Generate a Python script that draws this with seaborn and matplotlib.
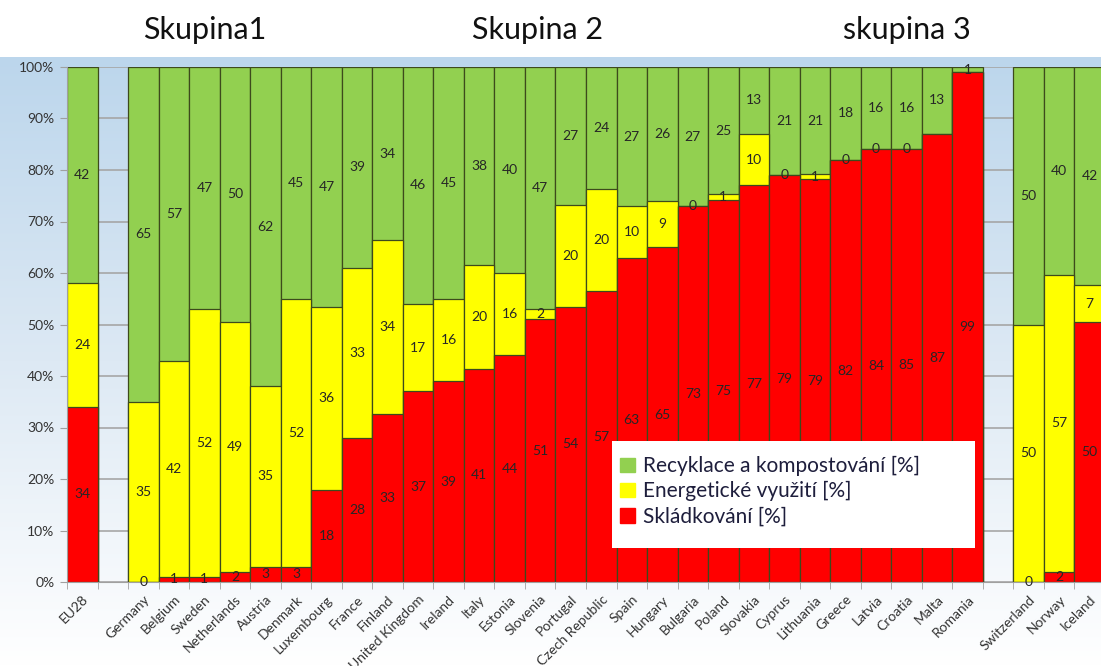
import numpy as np
import pandas as pd
import matplotlib.pyplot as plt
import matplotlib.patches as mpatches
from matplotlib.colors import LinearSegmentedColormap
import seaborn as sns

# ── data (values as printed on the chart) ─────────────────────
countries = ["EU28", "Germany", "Belgium", "Sweden", "Netherlands", "Austria",
             "Denmark", "Luxembourg", "France", "Finland", "United Kingdom",
             "Ireland", "Italy", "Estonia", "Slovenia", "Portugal",
             "Czech Republic", "Spain", "Hungary", "Bulgaria", "Poland",
             "Slovakia", "Cyprus", "Lithuania", "Greece", "Latvia", "Croatia",
             "Malta", "Romania", "Switzerland", "Norway", "Iceland"]
landfill = [34, 0, 1, 1, 2, 3, 3, 18, 28, 33, 37, 39, 41, 44, 51, 54, 57, 63,
            65, 73, 75, 77, 79, 79, 82, 84, 85, 87, 99, 0, 2, 50]
# Malta / Romania: no energy-recovery value printed
energy = [24, 35, 42, 52, 49, 35, 52, 36, 33, 34, 17, 16, 20, 16, 2, 20, 20,
          10, 9, 0, 1, 10, 0, 1, 0, 0, 0, None, None, 50, 57, 7]
recycling = [42, 65, 57, 47, 50, 62, 45, 47, 39, 34, 46, 45, 38, 40, 47, 27,
             24, 27, 26, 27, 25, 13, 21, 21, 18, 16, 16, 13, 1, 50, 40, 42]
# empty slots separate the groups
order = ["EU28", "", *countries[1:29], " ", *countries[29:]]
group_titles = ["Skupina1", "Skupina 2", "skupina 3"]
legend_labels = ["Recyklace a kompostování [%]", "Energetické využití [%]",
                 "Skládkování [%]"]

GREEN, YELLOW, RED = "#92d050", "#ffff00", "#ff0000"

df = pd.DataFrame({"country": countries, "landfill": landfill,
                   "energy": energy, "recycling": recycling})
cols = ["landfill", "energy", "recycling"]
# Excel 100% stacked -> normalise each row
vals = df[cols].fillna(0)
pct = vals.div(vals.sum(axis=1), axis=0) * 100
df["red_top"] = pct["landfill"]
df["yellow_top"] = pct["landfill"] + pct["energy"]
df["green_top"] = df["yellow_top"] + pct["recycling"]

fig = plt.figure(figsize=(11.01, 6.66), dpi=100, facecolor="white")
plt.rcParams["font.family"] = ["Lato", "DejaVu Sans"]

# gradient background of the chart area
bg = fig.add_axes([0, 0, 1, 1 - 57 / 666], zorder=-10)
grad = np.linspace(0, 1, 256).reshape(-1, 1)
cmap = LinearSegmentedColormap.from_list("bg", ["#bcd6ec", "#dde9f4", "#ffffff"])
bg.imshow(grad, aspect="auto", cmap=cmap, extent=[0, 1, 0, 1])
bg.axis("off")

ax = fig.add_axes([67 / 1101, 1 - 582 / 666, 1038 / 1101, (582 - 67) / 666])
ax.patch.set_alpha(0)

common = dict(data=df, x="country", order=order, width=1.0, saturation=1,
              edgecolor="#3d4a1c", linewidth=0.9, errorbar=None, ax=ax)
sns.barplot(y="green_top", color=GREEN, **common)
sns.barplot(y="yellow_top", color=YELLOW, **common)
sns.barplot(y="red_top", color=RED, **common)

# segment labels
for _, row in df.iterrows():
    xpos = order.index(row["country"])
    centers = [row["red_top"] / 2,
               (row["red_top"] + row["yellow_top"]) / 2,
               (row["yellow_top"] + row["green_top"]) / 2]
    for val, yc in zip([row["landfill"], row["energy"], row["recycling"]], centers):
        if pd.isna(val):
            continue
        ax.text(xpos, yc, f"{int(val)}", ha="center", va="center",
                fontsize=10, color="#262626", zorder=5)

ax.set_xlim(-0.5, len(order) - 0.5)
ax.set_ylim(0, 100)
ax.set_yticks(np.arange(0, 101, 10))
ax.set_yticklabels([f"{v}%" for v in range(0, 101, 10)])
ax.set_xticks(range(len(order)))
ax.set_xticklabels(order, rotation=45, ha="right", rotation_mode="anchor")
ax.set_xticks(np.arange(-0.5, len(order)), minor=True)
ax.tick_params(axis="x", which="major", length=0, pad=8, labelsize=10,
               labelcolor="#333333")
ax.tick_params(axis="x", which="minor", length=5, color="#a0a0a0")
ax.tick_params(axis="y", length=5, color="#a0a0a0", labelsize=10,
               labelcolor="#333333", pad=4)
ax.set_xlabel("")
ax.set_ylabel("")
ax.set_axisbelow(True)
ax.yaxis.grid(True, color="#a6a6a6", linewidth=1.2)
for side in ["top", "right"]:
    ax.spines[side].set_visible(False)
for side in ["left", "bottom"]:
    ax.spines[side].set_color("#a0a0a0")

# group titles
for title, xc in zip(group_titles, [205, 537, 907]):
    fig.text(xc / 1101, 1 - 30 / 666, title, ha="center", va="center",
             fontsize=22, color="#111111")

# legend box (white, more room at the bottom as in the original)
fig.patches.append(mpatches.Rectangle(
    (612 / 1101, 1 - 548 / 666), (975 - 612) / 1101, (548 - 441) / 666,
    transform=fig.transFigure, facecolor="white", edgecolor="none", zorder=3))
handles = [mpatches.Patch(color=c) for c in (GREEN, YELLOW, RED)]
leg = fig.legend(handles, legend_labels, loc="upper left",
                 bbox_to_anchor=(620 / 1101, 1 - 456 / 666), frameon=False,
                 fontsize=15, handlelength=0.7, handleheight=0.7,
                 handletextpad=0.4, labelspacing=0.25, borderpad=0,
                 borderaxespad=0)
leg.set_zorder(4)
for t in leg.get_texts():
    t.set_color("#1e1e3c")

fig.savefig("out.png", dpi=100)
